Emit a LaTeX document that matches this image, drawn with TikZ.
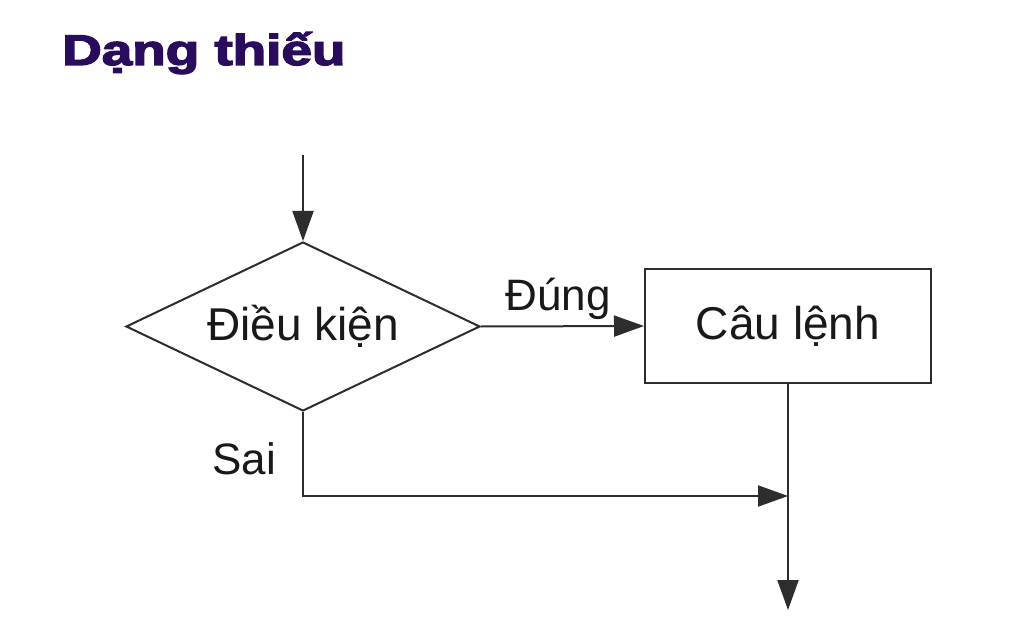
\documentclass[tikz,border=0pt]{standalone}
\usepackage{fontspec}
\setmainfont{Liberation Sans}
\newfontfamily\ttlfont[FakeBold=3]{Liberation Sans Bold}
\usetikzlibrary{shapes.geometric,arrows.meta}
\definecolor{titlecol}{RGB}{42,12,92}
\definecolor{linecol}{RGB}{45,45,45}
\definecolor{txtcol}{RGB}{25,25,25}
\tikzset{
  flow/.style={draw=linecol, line width=2pt},
  arr/.style={flow, -{Triangle[length=30pt,width=21pt]}},
  cond/.style={diamond, flow, minimum width=354pt, minimum height=169pt, aspect=2.1,
    inner sep=0pt, text=txtcol, font=\fontsize{46}{50}\selectfont},
  stmt/.style={rectangle, flow, minimum width=286pt, minimum height=114pt,
    inner sep=0pt, text=txtcol, font=\fontsize{46}{50}\selectfont},
  lbl/.style={inner sep=0pt, text=txtcol, font=\fontsize{44}{48}\selectfont},
  ttl/.style={inner sep=0pt, text=titlecol, font=\fontsize{43}{48}\ttlfont}
}
\begin{document}
\begin{tikzpicture}[x=1pt,y=-1pt]
\useasboundingbox[fill=white] (0,0) rectangle (1024,628);
\node[ttl, anchor=base west] (title) at (62,65) {\scalebox{1.275}[1]{Dạng thiếu}};
\coordinate (start) at (303,155);
\node[cond] (d) at (303,326.5) {Điều kiện};
\node[stmt] (s) at (788,326) {Câu lệnh};
\coordinate (join) at (788,496);
\coordinate (end) at (788,610);
\draw[arr] (start) -- (d.north);
\draw[arr] (d.east) -- (s.west);
\node[lbl, anchor=base] (yes) at (558,310) {Đúng};
\node[lbl, anchor=base west] (no) at (212,474) {Sai};
\draw[arr] (d.south) |- (join);
\draw[arr] (s.south) -- (end);
\end{tikzpicture}
\end{document}
